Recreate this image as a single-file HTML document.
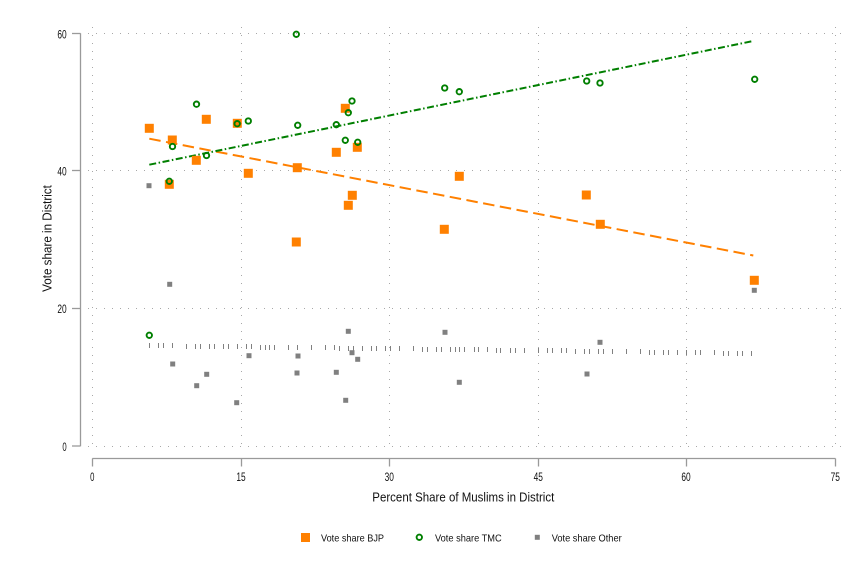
<!DOCTYPE html>
<html>
<head>
<meta charset="utf-8">
<style>
html,body{margin:0;padding:0;background:#fff;}
svg{display:block;}
text{font-family:"Liberation Sans",Arial,sans-serif;fill:#111;}
</style>
</head>
<body>
<svg width="867" height="578" viewBox="0 0 867 578" xmlns="http://www.w3.org/2000/svg">
<rect width="867" height="578" fill="#fff"/>
<!-- grid -->
<g stroke="#a8a8a8" stroke-width="1" stroke-dasharray="1 7" shape-rendering="crispEdges" fill="none">
  <line x1="88" y1="33.5" x2="846" y2="33.5"/>
  <line x1="88" y1="170.5" x2="846" y2="170.5"/>
  <line x1="88" y1="308.5" x2="846" y2="308.5"/>
  <line x1="88" y1="446.5" x2="846" y2="446.5"/>
  <line x1="92.5" y1="27" x2="92.5" y2="449"/>
  <line x1="241.5" y1="27" x2="241.5" y2="449"/>
  <line x1="389.5" y1="27" x2="389.5" y2="449"/>
  <line x1="538.5" y1="27" x2="538.5" y2="449"/>
  <line x1="686.5" y1="27" x2="686.5" y2="449"/>
  <line x1="835.5" y1="27" x2="835.5" y2="449"/>
</g>
<!-- axes -->
<g stroke="#9a9a9a" stroke-width="1.3" fill="none">
  <line x1="80.5" y1="33.3" x2="80.5" y2="446.3"/>
  <line x1="72" y1="33.5" x2="80.5" y2="33.5"/>
  <line x1="72" y1="170.5" x2="80.5" y2="170.5"/>
  <line x1="72" y1="308.5" x2="80.5" y2="308.5"/>
  <line x1="72" y1="446" x2="80.5" y2="446"/>
  <line x1="92.3" y1="458.5" x2="835.5" y2="458.5"/>
  <line x1="92.5" y1="458.5" x2="92.5" y2="466.5"/>
  <line x1="241.5" y1="458.5" x2="241.5" y2="466.5"/>
  <line x1="389.5" y1="458.5" x2="389.5" y2="466.5"/>
  <line x1="538.5" y1="458.5" x2="538.5" y2="466.5"/>
  <line x1="686.5" y1="458.5" x2="686.5" y2="466.5"/>
  <line x1="835.5" y1="458.5" x2="835.5" y2="466.5"/>
</g>
<!-- y tick labels -->
<g font-size="11.5" text-anchor="end">
  <text x="66.7" y="38.3" textLength="9.3" lengthAdjust="spacingAndGlyphs">60</text>
  <text x="66.7" y="175.5" textLength="9.3" lengthAdjust="spacingAndGlyphs">40</text>
  <text x="66.7" y="313" textLength="9.3" lengthAdjust="spacingAndGlyphs">20</text>
  <text x="66.7" y="451" textLength="4.3" lengthAdjust="spacingAndGlyphs">0</text>
</g>
<!-- x tick labels -->
<g font-size="11.5" text-anchor="middle">
  <text x="92.3" y="481" textLength="4.3" lengthAdjust="spacingAndGlyphs">0</text>
  <text x="241" y="481" textLength="9.3" lengthAdjust="spacingAndGlyphs">15</text>
  <text x="389.3" y="481" textLength="9.3" lengthAdjust="spacingAndGlyphs">30</text>
  <text x="538.3" y="481" textLength="9.3" lengthAdjust="spacingAndGlyphs">45</text>
  <text x="686" y="481" textLength="9.3" lengthAdjust="spacingAndGlyphs">60</text>
  <text x="835.3" y="481" textLength="9.3" lengthAdjust="spacingAndGlyphs">75</text>
</g>
<!-- axis titles -->
<text x="463.3" y="501.5" font-size="13" text-anchor="middle" textLength="182" lengthAdjust="spacingAndGlyphs">Percent Share of Muslims in District</text>
<text transform="translate(51.5,238.5) rotate(-90)" font-size="13" text-anchor="middle" textLength="106.7" lengthAdjust="spacingAndGlyphs">Vote share in District</text>

<!-- fit lines -->
<line x1="149.3" y1="138.7" x2="753.3" y2="255.5" stroke="#ff8000" stroke-width="2" stroke-dasharray="11.5 5.5"/>
<line x1="149.3" y1="164.7" x2="753.3" y2="41" stroke="#007f00" stroke-width="2" stroke-dasharray="7 2.5 1.5 2.5"/>
<!-- other fit (ticks) -->
<g stroke="#808080" stroke-width="1" fill="none" shape-rendering="crispEdges">
<path d="
M149.5 343v5 M158.5 343v5 M163.5 343v5 M172.5 343v5 M186.5 344v5 M195.5 344v5 M200.5 344v5 M209.5 344v5 M214.5 344v5 M223.5 344v5 M228.5 344v5 M237.5 344v5 M246.5 344v5 M251.5 344v5 M260.5 345v5 M265.5 345v5 M269.5 345v5 M274.5 345v5 M288.5 345v5 M297.5 345v5 M311.5 345v5 M325.5 345v5 M334.5 345v5 M339.5 346v5 M348.5 346v5 M353.5 346v5 M362.5 346v5 M371.5 346v5 M376.5 346v5 M385.5 346v5 M390.5 346v5 M399.5 346v5 M413.5 346v5 M422.5 347v5 M427.5 347v5 M436.5 347v5 M441.5 347v5 M450.5 347v5 M455.5 347v5 M459.5 347v5 M464.5 347v5 M474.5 347v5 M478.5 347v5 M487.5 347v5 M496.5 348v5 M500.5 348v5 M510.5 348v5 M515.5 348v5 M524.5 348v5 M538.5 348v5 M547.5 348v5 M552.5 348v5 M561.5 348v5 M566.5 348v5 M575.5 349v5 M584.5 349v5 M589.5 349v5 M598.5 349v5 M603.5 349v5 M612.5 349v5 M626.5 349v5 M640.5 349v5 M649.5 350v5 M654.5 350v5 M663.5 350v5 M668.5 350v5 M677.5 350v5 M686.5 350v5 M695.5 350v5 M700.5 350v5 M714.5 350v5 M723.5 351v5 M728.5 351v5 M737.5 351v5 M742.5 351v5 M751.5 351v5"/>
</g>

<!-- BJP squares -->
<g fill="#ff8000">
  <rect x="144.8" y="123.8" width="9" height="9"/>
  <rect x="167.8" y="135.5" width="9" height="9"/>
  <rect x="164.8" y="179.8" width="9" height="9"/>
  <rect x="191.8" y="155.8" width="9" height="9"/>
  <rect x="201.8" y="114.8" width="9" height="9"/>
  <rect x="232.8" y="118.8" width="9" height="9"/>
  <rect x="243.8" y="168.8" width="9" height="9"/>
  <rect x="292.8" y="163.2" width="9" height="9"/>
  <rect x="291.8" y="237.5" width="9" height="9"/>
  <rect x="331.8" y="147.8" width="9" height="9"/>
  <rect x="340.8" y="103.8" width="9" height="9"/>
  <rect x="347.8" y="190.8" width="9" height="9"/>
  <rect x="343.8" y="200.8" width="9" height="9"/>
  <rect x="352.8" y="142.8" width="9" height="9"/>
  <rect x="439.8" y="224.8" width="9" height="9"/>
  <rect x="454.8" y="171.8" width="9" height="9"/>
  <rect x="581.8" y="190.5" width="9" height="9"/>
  <rect x="595.8" y="219.8" width="9" height="9"/>
  <rect x="749.8" y="275.8" width="9" height="9"/>
</g>
<!-- TMC circles -->
<g fill="none" stroke="#007f00" stroke-width="1.9">
  <circle cx="296.3" cy="34.3" r="2.7"/>
  <circle cx="196.5" cy="104.2" r="2.7"/>
  <circle cx="237.2" cy="123.7" r="2.7"/>
  <circle cx="248.3" cy="121" r="2.7"/>
  <circle cx="172.5" cy="146.5" r="2.7"/>
  <circle cx="206.5" cy="155.5" r="2.7"/>
  <circle cx="169.3" cy="181.3" r="2.7"/>
  <circle cx="297.7" cy="125.3" r="2.7"/>
  <circle cx="352" cy="101" r="2.7"/>
  <circle cx="348.3" cy="112.7" r="2.7"/>
  <circle cx="336.3" cy="124.7" r="2.7"/>
  <circle cx="345.3" cy="140.3" r="2.7"/>
  <circle cx="357.7" cy="142.3" r="2.7"/>
  <circle cx="444.7" cy="88" r="2.7"/>
  <circle cx="459.3" cy="91.7" r="2.7"/>
  <circle cx="586.7" cy="81" r="2.7"/>
  <circle cx="600" cy="83" r="2.7"/>
  <circle cx="754.7" cy="79.3" r="2.7"/>
  <circle cx="149.3" cy="335.3" r="2.7"/>
</g>
<!-- Other markers -->
<g fill="#808080">
  <rect x="146.5" y="183.2" width="5" height="5"/>
  <rect x="167.2" y="281.8" width="5" height="5"/>
  <rect x="345.8" y="328.8" width="5" height="5"/>
  <rect x="170.2" y="361.5" width="5" height="5"/>
  <rect x="246.5" y="353.2" width="5" height="5"/>
  <rect x="295.5" y="353.5" width="5" height="5"/>
  <rect x="349.5" y="350.2" width="5" height="5"/>
  <rect x="355.2" y="356.8" width="5" height="5"/>
  <rect x="204.2" y="371.8" width="5" height="5"/>
  <rect x="294.5" y="370.5" width="5" height="5"/>
  <rect x="333.8" y="369.8" width="5" height="5"/>
  <rect x="194.2" y="383.2" width="5" height="5"/>
  <rect x="343.2" y="397.8" width="5" height="5"/>
  <rect x="234.2" y="400.2" width="5" height="5"/>
  <rect x="442.5" y="329.8" width="5" height="5"/>
  <rect x="456.8" y="379.8" width="5" height="5"/>
  <rect x="597.5" y="339.8" width="5" height="5"/>
  <rect x="584.5" y="371.5" width="5" height="5"/>
  <rect x="751.8" y="287.8" width="5" height="5"/>
</g>

<!-- legend -->
<rect x="301" y="533" width="9" height="9" fill="#ff8000"/>
<text x="321" y="541.5" font-size="10.5" textLength="63" lengthAdjust="spacingAndGlyphs">Vote share BJP</text>
<circle cx="419.3" cy="537.3" r="2.7" fill="none" stroke="#007f00" stroke-width="1.9"/>
<text x="435" y="541.5" font-size="10.5" textLength="66.7" lengthAdjust="spacingAndGlyphs">Vote share TMC</text>
<rect x="534.8" y="534.8" width="5" height="5" fill="#808080"/>
<text x="551.7" y="541.5" font-size="10.5" textLength="70" lengthAdjust="spacingAndGlyphs">Vote share Other</text>
</svg>
</body>
</html>
